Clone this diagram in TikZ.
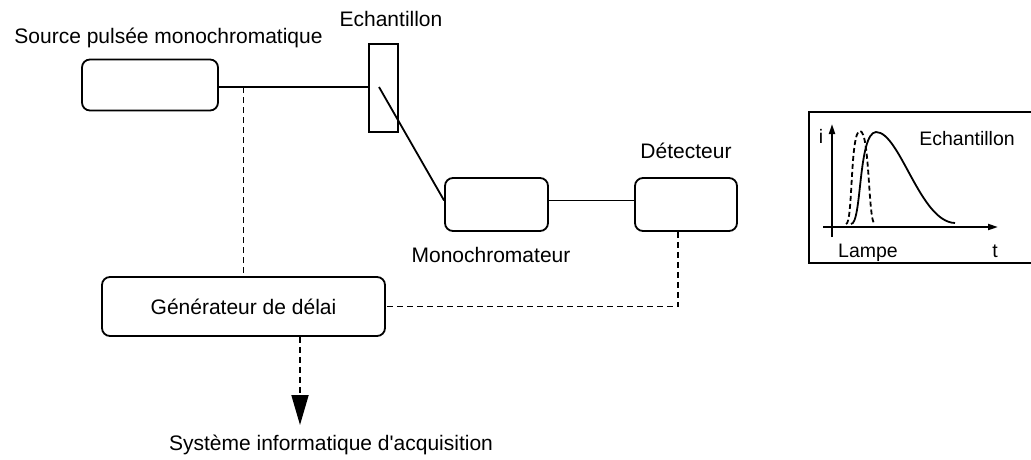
\documentclass[tikz,border=0pt]{standalone}
\usepackage{fontspec}
\setmainfont{Liberation Sans}
\usetikzlibrary{arrows.meta, positioning}

\begin{document}
\begin{tikzpicture}[
  x=1pt, y=-1pt,
  every node/.style={font=\fontsize{21}{24}\selectfont, inner sep=0pt},
  unit/.style={draw, rounded corners=8pt, line width=1.8pt, minimum height=52pt},
  tag/.style={anchor=base},
  small/.style={anchor=base, font=\fontsize{19.5}{22}\selectfont},
  wire/.style={draw, line width=1.8pt},
  sig/.style={draw, line width=1.8pt, dash pattern=on 6pt off 4pt}
]
\useasboundingbox (0,0) rectangle (1031,459);

\node[unit, minimum width=136pt, minimum height=51pt] (source) at (150,85) {};
\node[draw, line width=1.8pt, minimum width=29pt, minimum height=88pt] (echant) at (383.5,88) {};
\node[unit, minimum width=103pt, minimum height=53pt] (mono) at (496.5,204.5) {};
\node[unit, minimum width=102pt, minimum height=53pt] (det) at (686,204.5) {};
\node[unit, minimum width=283pt, minimum height=59pt] (gen) at (243.5,306.5) {Générateur de délai};

\node[tag] (sourcelabel) at (168.5,43) {Source pulsée monochromatique};
\node[tag] (echantlabel) at (391,26) {Echantillon};
\node[tag] (monolabel) at (491,262) {Monochromateur};
\node[tag] (detlabel) at (686,158) {Détecteur};
\node[tag] (syslabel) at (331,450) {Système informatique d\textquotesingle acquisition};

\coordinate (hit) at (379,87);
\coordinate (out) at (300,425);

\draw[wire] (source.east |- hit) -- (echant.west |- hit);
\draw[wire] (hit) -- ([yshift=4pt]mono.west);
\draw[wire] ([yshift=4pt]mono.east) -- ([yshift=4pt]det.west);
\draw[sig] (gen.north |- hit) -- (gen.north);
\draw[sig] ([xshift=-8pt]det.south) |- (gen.east);
\draw[sig, -{Triangle[length=30pt, width=17pt]}] (out |- gen.south) -- (out);

\draw[line width=1.8pt] (809,112) rectangle (1045,263);
\draw[line width=1.8pt, -{Triangle[length=10pt, width=6pt]}] (832,237) -- (832,124);
\draw[line width=1.8pt, -{Triangle[length=10pt, width=6pt]}] (823,227) -- (998,227);
\draw[line width=1.8pt, dash pattern=on 5pt off 3pt]
  (846,224) .. controls (853,224) and (850,131) .. (860,131)
  .. controls (870,131) and (868,224) .. (875,224);
\draw[line width=1.8pt]
  (851,224) .. controls (862,224) and (858,133) .. (876,132)
  .. controls (900,132) and (920,222) .. (955,223);
\node[small] (ilabel) at (821,143) {i};
\node[small] (tlabel) at (995,257) {t};
\node[small] (lampelabel) at (868,257) {Lampe};
\node[small] (curvelabel) at (967,145) {Echantillon};
\end{tikzpicture}
\end{document}
